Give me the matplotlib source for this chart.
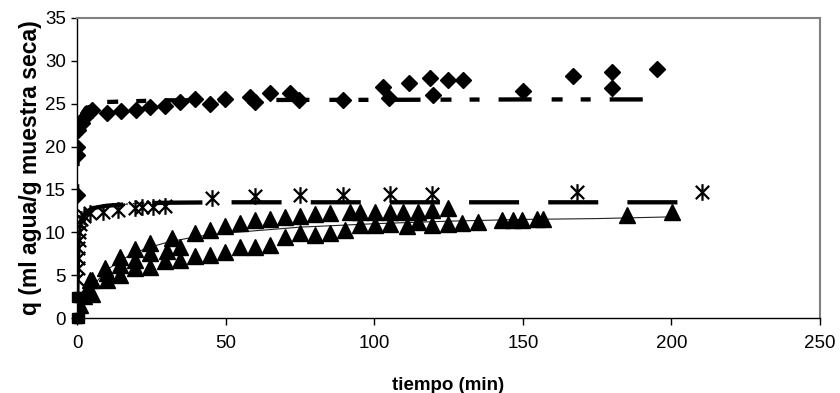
import matplotlib
matplotlib.use("Agg")
import matplotlib.pyplot as plt
from matplotlib.path import Path

plt.rcParams['font.family'] = ['Liberation Sans', 'DejaVu Sans']
plt.rcParams['lines.scale_dashes'] = False

# diamonds (experimental) and their fitted curve
diamond_t = [0, 0, 0, 0.3, 1.6, 2.7, 3.8, 4.9, 10, 14.8, 19.9, 24.6, 29.6, 34.7, 39.7, 44.8,
             49.7, 58.2, 59.9, 64.9, 71.7, 74.8, 89.6, 102.9, 105.1, 111.8, 118.8, 119.9,
             124.9, 130, 150.2, 167, 179.9, 179.9, 195.1]
diamond_q = [14.3, 19.0, 20.0, 21.9, 22.7, 23.5, 23.9, 24.3, 23.9, 24.2, 24.3, 24.6, 24.7, 25.2,
             25.6, 25.0, 25.6, 25.8, 25.2, 26.2, 26.25, 25.4, 25.4, 27.0, 25.7, 27.4, 28.0, 26.0,
             27.8, 27.8, 26.5, 28.2, 28.7, 26.8, 29.1]
fit_d_t = [0, 0.25, 0.5, 1, 2, 3, 5, 10, 20, 30, 50, 75, 100, 150, 195]
fit_d_q = [14.3, 19.5, 21.5, 23.0, 24.0, 24.5, 24.9, 25.2, 25.3, 25.4, 25.4, 25.45, 25.45, 25.5, 25.5]

# stars and their fitted curve
star_t = [0, 0, 0.1, 0.2, 0.3, 0.4, 0.5, 0.7, 1.0, 1.5, 2.5, 4.4, 8.7, 13.8, 19.5, 21.9, 25.6,
          29.6, 45.3, 59.9, 75.0, 89.6, 105.3, 119.4, 168.1, 210.2]
star_q = [0.3, 1.3, 4.6, 5.8, 7.0, 8.2, 9.1, 10.0, 11.0, 11.5, 11.9, 12.2, 12.4, 12.6, 12.8,
          13.0, 13.0, 13.1, 14.0, 14.2, 14.35, 14.35, 14.5, 14.5, 14.75, 14.75]
fit_s_t = [0, 0.25, 0.5, 1, 2, 3, 5, 10, 20, 30, 50, 100, 150, 210]
fit_s_q = [0, 6.0, 8.5, 10.5, 11.8, 12.3, 12.8, 13.1, 13.35, 13.45, 13.5, 13.5, 13.5, 13.5]
early_s_t = [0, 0.5, 1, 2, 4, 8, 12, 17, 22, 30]
early_s_q = [11.5, 11.8, 12.0, 12.3, 12.6, 12.9, 13.1, 13.3, 13.4, 13.5]

# triangles and their fitted curve
tri_t = [0, 1, 2.5, 3.5, 5, 5, 4.4, 9.4, 14.5, 19.5, 24.6, 31.9, 39.7, 44.8, 49.8, 54.8, 59.9,
         64.9, 70, 75, 80.1, 85.1, 91.9, 95.2, 100.3, 105.3, 109.7, 114.8, 119.4, 124.9,
         10, 14.5, 19.5, 24.6, 30.2, 34.7,
         10, 14.5, 19.5, 24.6, 29.6, 34.7, 39.7, 44.8, 49.8, 54.8, 59.9, 64.9, 70, 75, 80.1,
         85.1, 90.2, 95.2, 100.3, 105.3, 110.9, 114.8, 119.4, 124.9, 129.4, 135, 142.9, 146.8,
         149.6, 154.7, 156.9, 185, 200.1]
tri_q = [0.2, 1.5, 2.6, 3.3, 2.8, 4.4, 4.4, 5.8, 7.15, 8.1, 8.7, 9.3, 9.9, 10.3, 10.7, 11.1, 11.4,
         11.5, 11.75, 11.9, 12.1, 12.3, 12.4, 12.4, 12.4, 12.4, 12.4, 12.4, 12.6, 12.8,
         5.2, 6.2, 6.8, 7.6, 7.8, 8.3,
         4.4, 5.0, 5.8, 6.0, 6.6, 6.8, 7.2, 7.35, 7.7, 8.3, 8.3, 8.5, 9.5, 9.9, 9.7,
         9.9, 10.3, 10.85, 10.85, 11.0, 10.7, 11.2, 10.85, 11.0, 11.05, 11.2, 11.4, 11.4,
         11.4, 11.55, 11.55, 12.0, 12.4]
fit_t_t = [0, 0.5, 1, 2, 3, 5, 10, 15, 20, 25, 30, 40, 50, 75, 100, 125, 150, 175, 200]
fit_t_q = [0, 0.45, 0.9, 1.7, 2.3, 3.6, 5.6, 6.8, 7.7, 8.3, 8.8, 9.5, 9.9, 10.6, 11.0, 11.3,
           11.5, 11.6, 11.8]

# squares near the origin
sq_t = [0, 0.6, 0, 0.8]
sq_q = [0, 0, 2.5, 2.5]

# asterisk marker like Excel's star: an X with a vertical bar
star_marker = Path([(-1, -1), (1, 1), (-1, 1), (1, -1), (0, -1.25), (0, 1.25)],
                   [Path.MOVETO, Path.LINETO, Path.MOVETO, Path.LINETO, Path.MOVETO, Path.LINETO])

fig = plt.figure(figsize=(8.4, 3.93), dpi=100)
ax = fig.add_axes([0.0917, 0.1908, 0.8845, 0.7634])

ax.plot(fit_t_t, fit_t_q, color='#222222', lw=0.8, zorder=2)
ax.plot(tri_t, tri_q, ls='none', marker='^', ms=11, color='black', zorder=3)

ax.plot(early_s_t, early_s_q, color='black', lw=1.0, ls=(0, (1.2, 1.2)), zorder=3)
ax.plot(fit_s_t, fit_s_q, color='black', lw=3.1, ls=(45, (36, 21)), dash_capstyle='butt', zorder=3)
ax.plot(star_t, star_q, ls='none', marker=star_marker, ms=12, mfc='none', mec='black',
        mew=1.6, zorder=4)

ax.plot(fit_d_t, fit_d_q, color='black', lw=3.1,
        ls=(38, (23.8, 14.4, 7.9, 13.0, 7.2, 13.7)), dash_capstyle='butt', zorder=3)
ax.plot(diamond_t, diamond_q, ls='none', marker='D', ms=8.5, color='black', zorder=4)

ax.plot(sq_t, sq_q, ls='none', marker='s', ms=6.5, color='black', zorder=4, clip_on=False)

ax.set_xlim(0, 250)
ax.set_ylim(0, 35)
ax.set_xticks(range(0, 251, 50))
ax.set_yticks(range(0, 36, 5))
ax.tick_params(direction='out', length=4, width=1, labelsize=13.5, colors='black', pad=4)
ax.tick_params(axis='x', length=5, pad=7)

for side in ['top', 'right']:
    ax.spines[side].set_color('#808080')
    ax.spines[side].set_linewidth(1.5)
for side in ['left', 'bottom']:
    ax.spines[side].set_color('black')
    ax.spines[side].set_linewidth(1.0)

ax.set_xlabel('tiempo (min)', fontsize=13.5, fontweight='bold', labelpad=18)
ax.set_ylabel('q (ml agua/g muestra seca)', fontsize=16.5, fontweight='bold', labelpad=2)

fig.savefig('out.png', dpi=100)
